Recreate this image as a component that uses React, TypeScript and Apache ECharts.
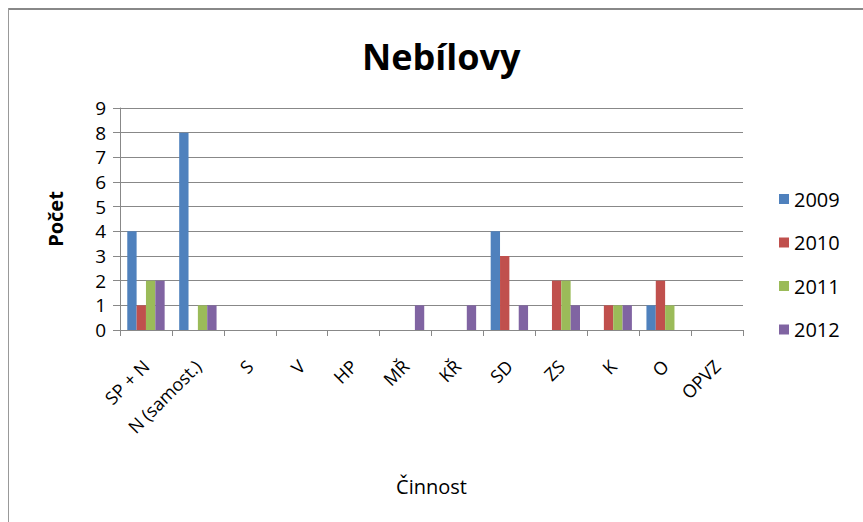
import React, { useEffect, useRef } from "react";
import * as echarts from "echarts";

const categories = ["SP + N", "N (samost.)", "S", "V", "HP", "MŘ", "KŘ", "SD", "ZS", "K", "O", "OPVZ"];
const seriesNames = ["2009", "2010", "2011", "2012"];
const values2009 = [4, 8, 0, 0, 0, 0, 0, 4, 0, 0, 1, 0];
const values2010 = [1, 0, 0, 0, 0, 0, 0, 3, 2, 1, 2, 0];
const values2011 = [2, 1, 0, 0, 0, 0, 0, 0, 2, 1, 1, 0];
const values2012 = [2, 1, 0, 0, 0, 1, 1, 1, 1, 1, 0, 0];
const colors = ["#4F81BD", "#C0504D", "#9BBB59", "#8064A2"];
const yTicks = [0, 1, 2, 3, 4, 5, 6, 7, 8, 9];

const FONT = "'Open Sans', 'Liberation Sans', sans-serif";

export default function App() {
  const ref = useRef<HTMLDivElement>(null);
  useEffect(() => {
    if (!ref.current) return;
    const chart = echarts.init(ref.current, null, { renderer: "svg" });
    const allValues = [values2009, values2010, values2011, values2012];
    chart.setOption({
      animation: false,
      backgroundColor: "#fff",
      title: {
        text: "Nebílovy",
        left: 357,
        top: 33,
        textStyle: { fontFamily: FONT, fontSize: 36, fontWeight: "bold", color: "#000" },
      },
      legend: {
        orient: "vertical",
        left: 774,
        top: 184,
        itemWidth: 10,
        itemHeight: 10,
        itemGap: 23.5,
        icon: "rect",
        data: seriesNames,
        textStyle: { fontFamily: FONT, fontSize: 20, color: "#000", padding: [0, 0, 0, 0] },
      },
      graphic: [
        { type: "line", shape: { x1: 8, y1: 9, x2: 863, y2: 9 }, style: { stroke: "#888", lineWidth: 2 } },
        { type: "line", shape: { x1: 8.5, y1: 8, x2: 8.5, y2: 522 }, style: { stroke: "#999", lineWidth: 1 } },
      ],
      grid: { left: 120, right: 120, top: 108, bottom: 192, containLabel: false },
      xAxis: {
        type: "category",
        data: categories,
        name: "Činnost",
        nameLocation: "middle",
        nameGap: 146,
        nameTextStyle: { fontFamily: FONT, fontSize: 20, color: "#000" },
        axisLine: { lineStyle: { color: "#888", width: 1 } },
        axisTick: { show: true, alignWithLabel: false, length: 6, lineStyle: { color: "#888" } },
        axisLabel: {
          interval: 0,
          rotate: 45,
          fontFamily: FONT,
          fontSize: 18,
          color: "#000",
          margin: 33,
        },
      },
      yAxis: {
        type: "value",
        min: 0,
        max: 9,
        interval: 1,
        name: "Počet",
        nameLocation: "middle",
        nameGap: 55,
        nameRotate: 90,
        nameTextStyle: { fontFamily: FONT, fontSize: 20, fontWeight: "bold", color: "#000" },
        axisLine: { show: true, lineStyle: { color: "#888", width: 1 } },
        axisTick: { show: true, length: 7, lineStyle: { color: "#888" } },
        axisLabel: {
          fontFamily: FONT,
          fontSize: 19,
          color: "#000",
          margin: 14,
          formatter: (v: number) => (yTicks.includes(v) ? String(v) : ""),
        },
        splitLine: { show: true, lineStyle: { color: "#888", width: 1 } },
      },
      series: seriesNames.map((name, i) => ({
        name,
        type: "bar",
        data: allValues[i],
        barGap: "0%",
        barCategoryGap: "28%",
        itemStyle: { color: colors[i] },
      })),
    });
    return () => chart.dispose();
  }, []);
  return (
    <div
      ref={ref}
      style={{ position: "absolute", left: 0, top: 0, width: 863, height: 522 }}
    />
  );
}
